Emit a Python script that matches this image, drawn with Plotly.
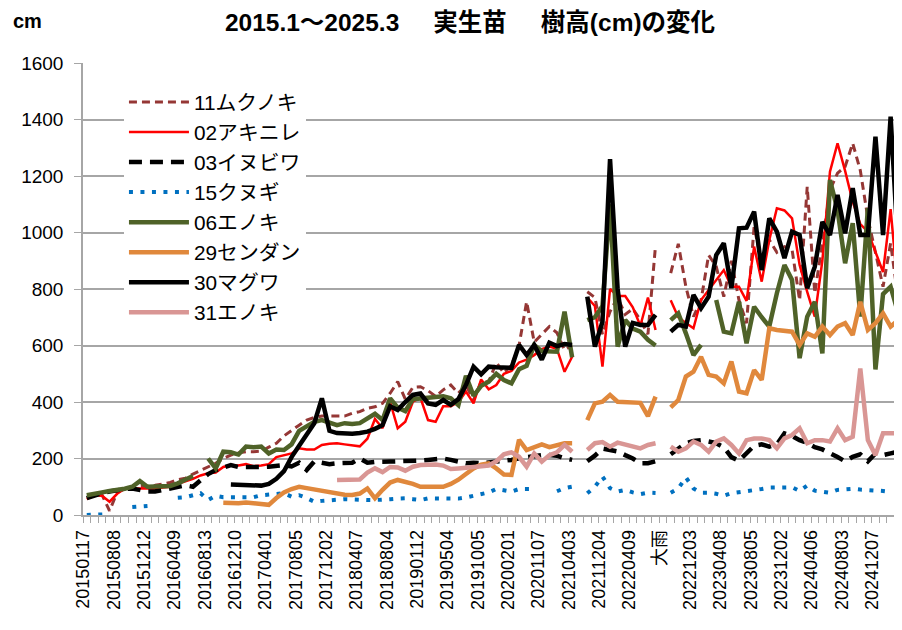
import plotly.graph_objects as go

N = 108
x_idx = list(range(N))

tick_labels = ["20150117", "20150808", "20151212", "20160409", "20160813", "20161210",
               "20170401", "20170805", "20171202", "20180407", "20180804", "20190112",
               "20190504", "20191005", "20200201", "20201107", "20210403", "20211204",
               "20220409", "大雨", "20221203", "20230408", "20230805", "20231202",
               "20240406", "20240803", "20241207"]
tick_step = 4

_ = None
muku11 = [60, 68, 72, 15, 80, 92, 100, 100, 102, 105, 110, 115, 125, 130, 145, 158, 170, 183, 200, 212,
          220, 224, 224, 226, 240, 254, 280, 300, 318, 336, 345, 350, 350, 348, 350, 360, 366, 378, 383, 395,
          431, 472, 410, 452, 454, 440, 420, 443, 460, 431, 460, 407, 472, 472, 540, 502, 530, 600, 755, 612,
          640, 667, 645, 584, 600, _, 790, 770, 640, 720, 770, 710, 730, 690, 640, 955, _, 856, 960, 808,
          702, 760, 920, 880, 773, 900, 761, 679, 1021, 891, 974, 930, 950, 940, 760, 1162, 785, 962, 1150, 1210,
          1233, 1316, 1220, 1050, 930, 808, 962, 761]
akinire02 = [56, 70, 68, 47, 75, 94, 94, 94, 94, 94, 97, 100, 110, 118, 128, 140, 148, 150, 170, 177,
             175, 180, 173, 175, 180, 205, 212, 218, 236, 232, 232, 248, 252, 254, 250, 246, 243, 270, 340, 307,
             400, 307, 330, 401, 415, 336, 330, 385, 385, 400, 437, 395, 480, 445, 460, 500, 510, 540, 550, 566,
             587, 596, 588, 507, 560, _, 770, 740, 525, 800, 775, 775, 735, 670, 770, 655, _, 760, 700, 680,
             661, 761, 797, 832, 867, 808, 808, 758, 950, 826, 974, 1086, 1078, 1050, 885, 790, 702, 900, 1215, 1316,
             1218, 1109, 1030, 1003, 932, 860, 1083, 785]
inubiwa03 = [60, 70, 77, 83, 89, 92, 94, 88, 83, 83, 88, 94, 98, 105, 100, 120, 145, 159, 170, 177,
             170, 169, 169, 170, 171, 176, 177, 172, 185, 159, 190, 185, 180, 183, 183, 185, 200, 185, 188, 190,
             189, 190, 190, 192, 193, 195, 196, 200, 195, 190, 183, 185, 183, 186, 188, 190, 195, 201, 205, 208,
             212, 212, 210, 201, 195, _, 190, 210, 235, 230, 225, 212, 200, 183, 183, 190, _, 215, 236, 254,
             262, 265, 260, 254, 240, 205, 192, 220, 245, 250, 242, 250, 289, 280, 265, 255, 240, 232, 220, 205,
             190, 206, 215, 190, 218, 212, 218, 224]
kunugi15 = [0, 0, 1, 3, _, _, 28, 30, 32, _, _, _, 61, 63, 70, 77, 53, 68, 63, 63,
            63, 62, 63, 70, 72, 75, 77, 65, 70, 60, 47, 50, 53, 56, 56, 55, 53, 53, 53, 53,
            56, 58, 59, 56, 53, 59, 59, 58, 56, 58, 62, 67, 75, 80, 92, 86, 83, 92, 93, 92,
            _, _, 84, 95, 100, _, 77, 100, 136, 95, 83, 89, 80, 74, 79, 78, _, 79, 94, 133,
            94, 79, 79, 75, 68, 77, 80, 85, 89, 92, 97, 98, 98, 98, 85, 104, 86, 82, 79, 89,
            90, 93, 90, 89, 89, 85, 82, _]
enoki06 = [70, 73, 80, 85, 88, 93, 100, 120, 100, 100, 100, 103, 112, 124, 138, _, 200, 165, 224, 222,
           214, 242, 240, 242, 218, 232, 230, 250, 298, 315, 330, 336, 328, 318, 325, 322, 325, 340, 358, 336,
           413, 380, 368, 410, 413, 415, 419, 420, 413, 389, 493, 422, 457, 472, 500, 478, 466, 516, 528, 602,
           580, 578, 578, 720, 558, _, 690, 700, 740, 1100, 596, 690, 660, 649, 620, 600, _, 690, 714, 643,
           566, 602, _, 761, 649, 643, 755, 608, 737, 700, 667, 785, 885, 832, 555, 702, 755, 572, 1186, 1080,
           891, 1033, 702, 1086, 515, 782, 808, 714]
sendan29 = [_, _, _, _, _, _, _, _, _, _, _, _, _, _, _, _, _, _, 43, 41,
            42, 44, 42, 40, 36, 60, 80, 92, 100, 95, 90, 84, 78, 75, 72, 71, 76, 94, 59, 89,
            115, 124, 118, 110, 100, 99, 98, 100, 110, 125, 145, 165, 178, 183, 165, 143, 142, 266, 230, 238,
            250, 240, 245, 254, 254, _, 336, 395, 401, 425, 401, 400, 398, 397, 350, 419, _, 381, 407, 490,
            507, 560, 496, 490, 466, 543, 437, 431, 513, 478, 661, 655, 652, 649, 602, 643, 631, 667, 637, 667,
            679, 637, 755, 655, 679, 714, 667, 690]
maguwa30 = [_, _, _, _, _, _, _, _, _, _, _, _, _, _, _, _, _, _, _, 108,
            106, 105, 104, 104, 110, 128, 155, 205, 245, 285, 325, 413, 298, 290, 288, 288, 290, 295, 305, 318,
            385, 372, 400, 425, 430, 395, 390, 407, 390, 410, 460, 525, 498, 525, 523, 520, 521, 602, 566, 602,
            550, 610, 598, 605, 602, _, 773, 596, 684, 1260, 800, 596, 680, 673, 673, 708, _, 649, 673, 667,
            779, 732, 773, 920, 962, 803, 1015, 1017, 1074, 867, 1050, 1003, 909, 1003, 991, 803, 879, 1038, 991, 1133,
            997, 1157, 991, 991, 1339, 991, 1410, 938]
enoki31 = [_, _, _, _, _, _, _, _, _, _, _, _, _, _, _, _, _, _, _, _,
           _, _, _, _, _, _, _, _, _, _, _, _, _, 124, 124, 125, 126, 150, 165, 152,
           170, 168, 157, 171, 177, 178, 179, 175, 163, 165, 168, 171, 173, 175, 190, 215, 222, 206, 171, 218,
           189, 212, 222, 248, 224, _, 230, 254, 258, 242, 256, 250, 245, 236, 248, 254, _, 242, 224, 236,
           260, 248, 224, 260, 271, 248, 218, 265, 271, 271, 265, 236, 271, 283, 307, 254, 265, 265, 260, 307,
           265, 277, 519, 265, 212, 289, 289, 289]

series = [
    ("11ムクノキ", muku11, dict(color="#953735", width=3, dash="8px,5px")),
    ("02アキニレ", akinire02, dict(color="#FF0000", width=2.5)),
    ("03イヌビワ", inubiwa03, dict(color="#000000", width=4.5, dash="13px,8px")),
    ("15クヌギ", kunugi15, dict(color="#0070C0", width=4, dash="4px,7.5px")),
    ("06エノキ", enoki06, dict(color="#4F6228", width=4.5)),
    ("29センダン", sendan29, dict(color="#E0883C", width=4.5)),
    ("30マグワ", maguwa30, dict(color="#000000", width=4.5)),
    ("31エノキ", enoki31, dict(color="#D99694", width=4.5)),
]

FONT = "Liberation Sans, Noto Sans CJK JP, sans-serif"
GRID = "#A6A6A6"
SP = "\u00a0" * 5

# the page body adds an 8px offset; figure is sized so the plot lands where the reference has it
W, H = 894, 622

fig = go.Figure()
for name, vals, line in series:
    fig.add_trace(go.Scatter(x=x_idx, y=vals, name=name, mode="lines", line=line,
                             connectgaps=False))

# labels sit slightly left of their category centre in the reference
tickvals = [v - 0.45 for v in list(range(0, N, tick_step))[:len(tick_labels)]]

fig.update_layout(
    width=W, height=H,
    margin=dict(l=75, r=0, t=55, b=115, autoexpand=False),
    plot_bgcolor="white", paper_bgcolor="white",
    font=dict(family=FONT, color="black"),
    title=dict(text="<b>2015.1～2025.3" + SP + "実生苗" + SP + "樹高(cm)の変化</b>",
               x=462 / W, xref="container", xanchor="center",
               y=1 - 14 / H, yref="container", yanchor="middle",
               font=dict(size=24.5, family=FONT)),
    showlegend=True,
    legend=dict(x=0.05, y=0.958, xanchor="left", yanchor="top",
                bgcolor="white", borderwidth=0, itemwidth=60,
                font=dict(size=20.8, family=FONT), tracegroupgap=0),
    annotations=[dict(text="<b>cm</b>", x=-0.068, y=1.094, xref="paper", yref="paper",
                      showarrow=False, font=dict(size=20, family=FONT),
                      xanchor="center", yanchor="middle")],
)
fig.update_xaxes(
    range=[-0.5, N - 0.5], tickmode="array", tickvals=tickvals, ticktext=tick_labels,
    tickangle=-90, ticks="", ticklabelstandoff=6, tickfont=dict(size=18), automargin=False,
    showline=True, linecolor=GRID, linewidth=1.5, showgrid=False, zeroline=False,
    minor=dict(ticks="outside", ticklen=6, tickcolor=GRID, tickwidth=1, tick0=-0.5, dtick=1,
               showgrid=False),
)
fig.update_yaxes(
    range=[0, 1600], dtick=200, tick0=0, showgrid=True, gridcolor=GRID, gridwidth=1.5,
    ticks="outside", ticklen=7, tickcolor=GRID, showline=True, linecolor=GRID, linewidth=1.5,
    zeroline=False, tickfont=dict(size=19), ticklabelstandoff=7, automargin=False,
)

fig.write_html("out.html")
